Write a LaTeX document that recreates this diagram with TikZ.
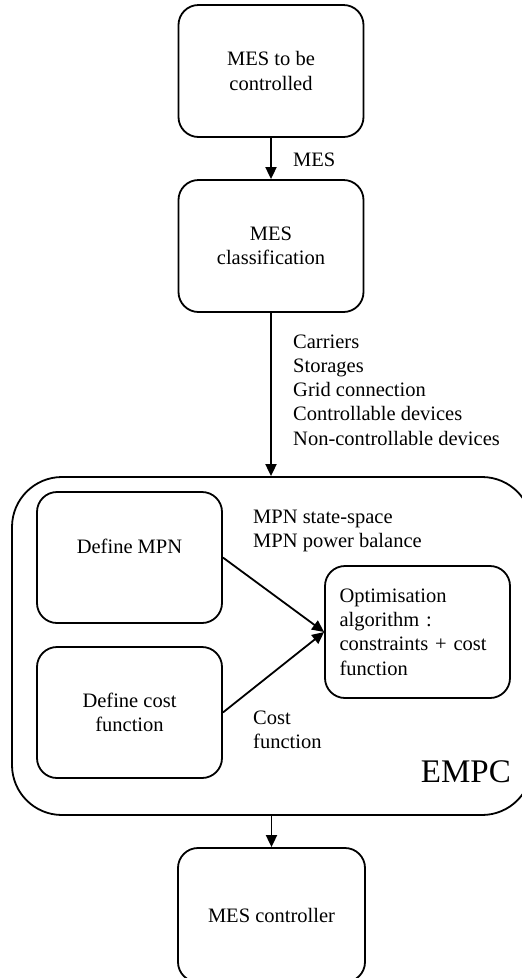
\documentclass[tikz,border=0pt]{standalone}
\usepackage{fontspec}
\setmainfont{Liberation Serif}
\usetikzlibrary{arrows.meta}

\begin{document}
\begin{tikzpicture}[
    x=1pt, y=-1pt,
    block/.style={rectangle, draw, line width=1.8pt, rounded corners=20pt, minimum width=185pt, minimum height=132pt, align=center, font=\fontsize{20.5}{24.3}\selectfont},
    frame/.style={rectangle, draw, line width=1.8pt, rounded corners=50pt, minimum width=520pt, minimum height=338pt},
    note/.style={inner sep=0pt, anchor=west, align=left, font=\fontsize{20.5}{24.3}\selectfont},
    arrow/.style={-{Triangle[length=12pt,width=11pt]}, line width=1.8pt}
]
\useasboundingbox (0,0) rectangle (522,978);

\node[frame] (empc) at (272, 646) {};

\node[block] (mes) at (271, 71) {MES to be\\controlled};
\node[block] (cls) at (271, 246) {MES\\classification};
\node[block, minimum height=131pt, text depth=22pt] (mpn) at (129.5, 557.5) {Define MPN};
\node[block, minimum height=131pt] (cost) at (129.5, 712.5) {Define cost\\function};
\node[block, align=left, text width=156pt, xshift=3pt] (opt) at (414.5, 632) {Optimisation\\algorithm :\\constraints + cost\\function};
\node[block, minimum width=187pt, minimum height=134pt] (ctrl) at (271.5, 915) {MES controller};

\node[note] (l0) at (293, 160) {MES};
\node[note] (l1) at (293, 390) {Carriers\\Storages\\Grid connection\\Controllable devices\\Non-controllable devices};
\node[note] (l2) at (253, 531) {MPN state-space\\MPN power balance};
\node[note] (l3) at (253, 730) {Cost\\function};
\node[note, anchor=east, font=\fontsize{33}{36}\selectfont] (l4) at (511, 772) {EMPC};

\draw[arrow] (mes) -- (cls);
\draw[arrow] (cls) -- (empc.north -| cls);
\draw[arrow] (mpn.east) -- (opt.west);
\draw[arrow] (cost.east) -- (opt.west);
\draw[arrow] (empc.south -| ctrl) -- (ctrl);

\end{tikzpicture}
\end{document}
